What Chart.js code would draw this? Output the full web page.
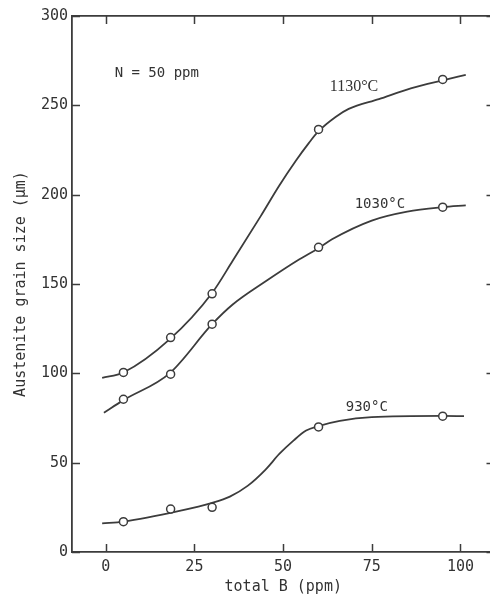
<!DOCTYPE html>
<html>
<head>
<meta charset="utf-8">
<script src="https://cdn.jsdelivr.net/npm/chart.js@4/dist/chart.umd.min.js"></script>
<style>
  html, body { margin: 0; padding: 0; background: #fff; overflow: hidden; }
  #wrap { width: 500px; height: 600px; }
</style>
</head>
<body>
<div id="wrap"><canvas id="grainChart"></canvas></div>
<script>
Chart.defaults.font.family = "'DejaVu Sans Mono', monospace";
Chart.defaults.font.size = 15;
Chart.defaults.color = '#333';

var xTicks = [0, 25, 50, 75, 100];
var yTicks = [0, 50, 100, 150, 200, 250, 300];

// measured points (total B in ppm, grain size in um)
var boron = [5, 18.3, 30, 60, 95];
var size1130 = [100.5, 120, 144.5, 236.5, 264.5];
var size1030 = [85.5, 99.5, 127.5, 170.5, 193];
var size930 = [17, 24, 25, 70, 76];

// fitted curves
var curveB1130 = [-1, 5, 18, 30, 35.8, 43.7, 48.9, 53.6, 57.3, 60, 64.8, 68.5, 77, 86, 95, 101.5];
var curve1130 = [97.5, 100.5, 119, 145, 163, 188, 205, 219, 229, 235.5, 243.5, 248, 253.5, 259.5, 264, 267];
var curveB1030 = [-0.5, 5, 18, 30, 35.8, 45.1, 54.5, 60, 63.8, 75, 85, 95, 101.5];
var curve1030 = [78, 85, 100, 127.5, 138.5, 151.5, 163.7, 170, 175, 185.5, 190.5, 193, 194];
var curveB930 = [-1, 5, 20.8, 30, 35, 40, 45, 49, 53, 56.5, 60, 66, 75, 95, 101];
var curve930 = [16, 17, 23, 27.5, 31, 37, 46, 55, 62.5, 68, 70.5, 73.4, 75.5, 76.2, 76];

var notes = [
  { text: '1130°C', x: 70, y: 260.5, font: "16px 'Liberation Serif'" },
  { text: '1030°C', x: 77.3, y: 194.5, font: "14px 'DejaVu Sans Mono'" },
  { text: '930°C', x: 73.6, y: 80.7, font: "14px 'DejaVu Sans Mono'" },
  { text: 'N = 50 ppm', x: 14.4, y: 268, font: "14px 'DejaVu Sans Mono'" }
];

var ink = '#3c3c3c';

function pairs(xs, ys) {
  return xs.map(function (x, i) { return { x: x, y: ys[i] }; });
}

function pointSet(ys) {
  return {
    data: pairs(boron, ys),
    showLine: false,
    pointRadius: 4,
    pointBackgroundColor: '#fff',
    pointBorderColor: ink,
    pointBorderWidth: 1.5,
    order: 0
  };
}

function curveSet(xs, ys) {
  return {
    data: pairs(xs, ys),
    showLine: true,
    borderColor: ink,
    borderWidth: 1.8,
    pointRadius: 0,
    cubicInterpolationMode: 'monotone',
    order: 1
  };
}

// ticks pointing into the plot on all four sides, plus the text notes
var frameMarks = {
  id: 'frameMarks',
  afterDatasetsDraw: function (chart) {
    var c = chart.ctx, a = chart.chartArea;
    var xs = chart.scales.x, ys = chart.scales.y;
    var len = 8;
    c.save();
    c.strokeStyle = ink;
    c.lineWidth = 1.5;
    c.beginPath();
    xTicks.forEach(function (v) {
      var px = Math.round(xs.getPixelForValue(v)) + 0.5;
      c.moveTo(px, a.bottom); c.lineTo(px, a.bottom - len);
      c.moveTo(px, a.top); c.lineTo(px, a.top + len);
    });
    yTicks.forEach(function (v) {
      var py = Math.round(ys.getPixelForValue(v)) + 0.5;
      c.moveTo(a.left, py); c.lineTo(a.left + len, py);
      c.moveTo(a.right, py); c.lineTo(a.right - len, py);
    });
    c.stroke();
    c.fillStyle = '#333';
    c.textAlign = 'center';
    c.textBaseline = 'middle';
    notes.forEach(function (n) {
      c.font = n.font;
      c.fillText(n.text, xs.getPixelForValue(n.x), ys.getPixelForValue(n.y));
    });
    c.restore();
  }
};

function fixTicks(list) {
  return function (scale) {
    scale.ticks = list.map(function (v) { return { value: v }; });
  };
}

var ctx = document.getElementById('grainChart');

var myChart = new Chart(ctx, {
  type: 'scatter',
  data: {
    datasets: [
      pointSet(size1130),
      pointSet(size1030),
      pointSet(size930),
      curveSet(curveB1130, curve1130),
      curveSet(curveB1030, curve1030),
      curveSet(curveB930, curve930)
    ]
  },
  plugins: [frameMarks],
  options: {
    responsive: true,
    maintainAspectRatio: false,
    animation: false,
    layout: { padding: { left: 8, top: 16, right: 0, bottom: 0 } },
    plugins: {
      legend: { display: false },
      tooltip: { enabled: false }
    },
    scales: {
      x: {
        type: 'linear',
        position: 'bottom',
        min: -9.5,
        max: 109.6,
        afterBuildTicks: fixTicks(xTicks),
        afterFit: function (s) { s.height = 48; },
        grid: { display: false, drawTicks: false },
        border: { display: true, color: ink, width: 1.8 },
        ticks: { padding: 6, maxRotation: 0 },
        title: { display: true, text: 'total B (ppm)', font: { size: 15 } }
      },
      xTop: {
        type: 'linear',
        position: 'top',
        min: -9.5,
        max: 109.6,
        afterFit: function (s) { s.height = 0; },
        grid: { display: false, drawTicks: false },
        border: { display: true, color: ink, width: 1.8 },
        ticks: { display: false }
      },
      y: {
        type: 'linear',
        position: 'left',
        min: 0,
        max: 300,
        afterBuildTicks: fixTicks(yTicks),
        afterFit: function (s) { s.width = 64; },
        grid: { display: false, drawTicks: false },
        border: { display: true, color: ink, width: 1.8 },
        ticks: { padding: 4 },
        title: { display: true, text: 'Austenite grain size (μm)', font: { size: 15 } }
      },
      yRight: {
        type: 'linear',
        position: 'right',
        min: 0,
        max: 300,
        afterFit: function (s) { s.width = 4; },
        grid: { display: false, drawTicks: false },
        border: { display: false },
        ticks: { display: false }
      }
    }
  }
});
</script>
</body>
</html>
